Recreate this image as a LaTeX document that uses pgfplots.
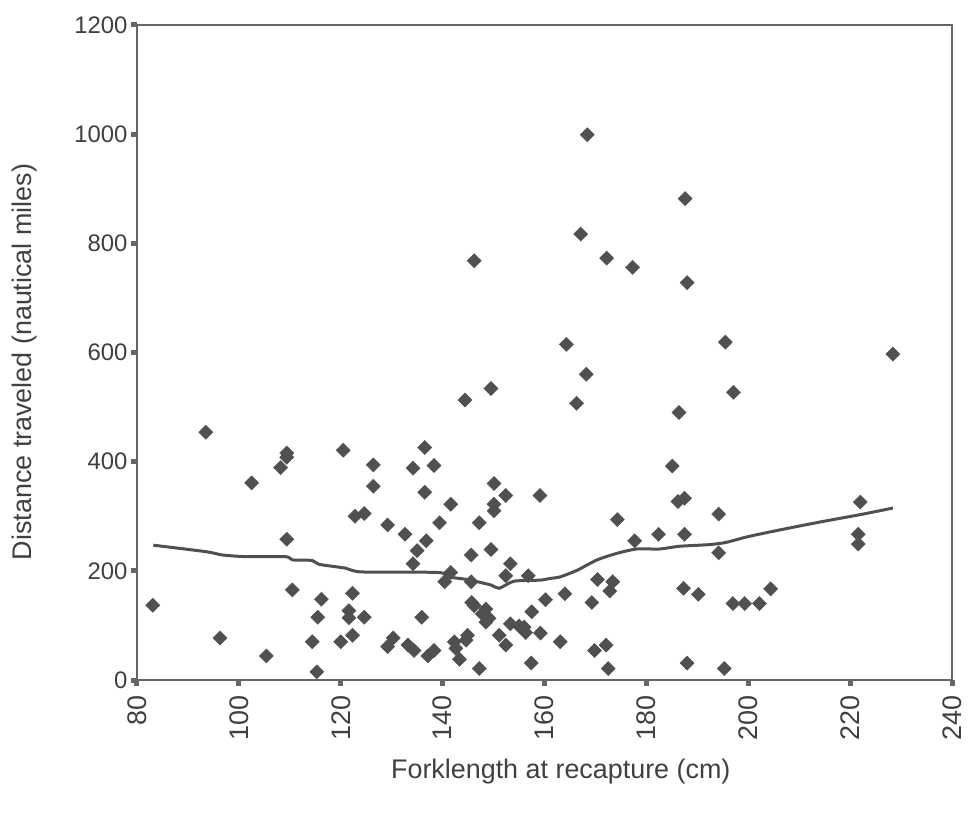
\documentclass[border=0pt]{standalone}
\usepackage{fontspec}
\setmainfont{Liberation Sans}
\usepackage{pgfplots}
\usepackage{pgfplotstable}
\pgfplotsset{compat=1.18}
\definecolor{mk}{HTML}{505050}
\definecolor{fr}{HTML}{666666}
\definecolor{tx}{HTML}{404040}
\pgfplotstableread{
x y
83.1 137
93.5 454
109.4 416
109.4 408
108.2 389
102.5 361
120.5 421
109.4 258
110.5 165
96.3 77
105.4 44
115.3 15
114.4 70
115.5 115
116.2 148
120.0 70
149.5 534
144.4 513
166.3 507
126.4 394
126.4 355
136.5 426
134.2 388
138.3 393
136.5 344
141.6 322
122.8 300
124.6 305
129.2 284
132.6 267
139.4 288
147.2 288
150.1 360
152.4 338
150.1 322
150.1 310
159.1 338
149.5 239
145.6 229
135.0 237
136.8 255
134.2 213
141.6 197
140.4 180
145.6 180
153.3 213
152.4 191
156.8 191
122.3 159
121.6 127
121.6 114
124.6 115
135.9 115
122.3 82
130.3 77
129.2 61
133.2 64
134.4 54
137.1 44
138.3 54
142.3 70
142.6 58
144.6 73
144.9 82
143.3 38
147.2 21
145.7 142
146.2 136
148.5 130
147.8 121
149.1 113
148.5 106
151.1 82
152.4 64
153.3 103
155.0 99
156.0 97
156.3 87
159.2 86
157.5 125
160.2 147
164.0 158
163.1 70
157.4 31
186.4 490
185.1 392
186.2 327
187.5 333
174.3 294
194.2 304
194.2 233
177.7 255
182.4 267
187.5 267
170.4 184
173.4 180
172.8 163
169.3 142
169.8 54
172.1 64
172.5 21
187.3 168
190.2 157
188.0 31
195.3 21
197.0 140
199.3 140
202.2 140
204.4 167
228.4 597
222.0 326
221.6 267
221.6 249
168.4 999
187.6 882
167.1 817
146.2 768
172.2 773
177.3 756
188.0 728
164.3 615
195.5 619
168.2 560
197.1 527
}\pts
\pgfplotstableread{
x y
83.2 247
93.6 235
96.8 229
101.4 226
109.2 226
110.5 220
114.4 219
115.7 212
120.9 205
124.1 198
139.1 197
141.0 189
144.9 184
149.5 174
151.1 168
154.0 181
159.2 183
161.1 186
163.1 189
166.4 201
170.3 220
174.2 232
178.1 240
182.6 240
186.5 245
192.3 248
195.6 252
200.1 263
207.3 277
214.4 290
222.0 303
228.4 315
}\fit
\begin{document}
\begin{tikzpicture}
\begin{axis}[
  scale only axis,
  width=815bp, height=655bp,
  xmin=80, xmax=240, ymin=0, ymax=1200,
  xtick={80,100,...,240},
  ytick={0,200,...,1200},
  axis line style={fr, line width=2.5bp},
  tick style={fr, line width=5bp},
  major tick length=6bp,
  tick align=outside,
  xtick pos=bottom, ytick pos=left,
  /pgf/number format/assume math mode=true,
  /pgf/number format/1000 sep={},
  xticklabel style={yshift=-6bp, rotate=90, anchor=east, font=\fontsize{27}{30}\selectfont, text=tx},
  yticklabel style={font=\fontsize{24}{26}\selectfont, text=tx},
  xlabel={Forklength at recapture (cm)},
  ylabel={Distance traveled (nautical miles)},
  label style={font=\fontsize{27}{30}\selectfont, text=tx},
  xlabel style={at={(axis description cs:0.52,-0.140)}, anchor=center},
  ylabel style={at={(axis description cs:-0.138,0.4855)}, anchor=center, rotate=0},
]
\addplot[only marks, mark=square*, mark size=5bp, mark options={rotate=45, fill=mk, draw=mk, line width=0.4bp}] table[x=x,y=y] {\pts};
\addplot[mk, line width=3bp, smooth, tension=0.4, no marks] table[x=x,y=y] {\fit};
\coordinate (sw) at (rel axis cs:0,0);
\coordinate (ne) at (rel axis cs:1,1);
\end{axis}
\pgfresetboundingbox
\path[use as bounding box] ([xshift=-137bp,yshift=-133bp]sw) rectangle ([xshift=17bp,yshift=25bp]ne);
\end{tikzpicture}
\end{document}
